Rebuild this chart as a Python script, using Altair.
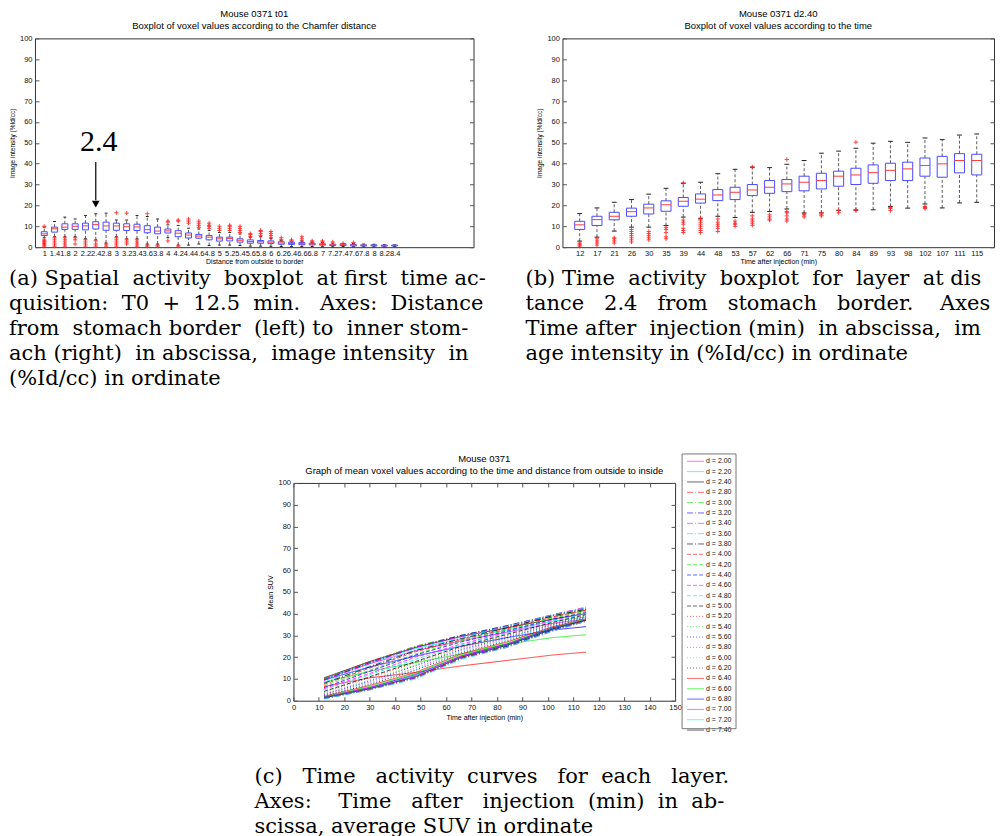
import altair as alt
import pandas as pd

# ---------------- Panel (a): boxplot vs Chamfer distance ----------------
dist_labels = ["1", "1.4", "1.8", "2", "2.2", "2.4", "2.8", "3", "3.2", "3.4", "3.6", "3.8",
               "4", "4.2", "4.4", "4.6", "4.8", "5", "5.2", "5.4", "5.6", "5.8", "6", "6.2",
               "6.4", "6.6", "6.8", "7", "7.2", "7.4", "7.6", "7.8", "8", "8.2", "8.4"]
dist_q1 = [5.6, 7.2, 8.5, 8.5, 8.3, 8.7, 8.1, 8.1, 8.0, 8.0, 6.9, 6.4, 6.8, 5.0, 4.4, 4.3, 3.5, 2.9,
           3.0, 2.4, 1.9, 1.9, 1.7, 1.4, 1.3, 1.2, 1.1, 1.0, 0.8, 0.8, 0.6, 0.6, 0.6, 0.5, 0.6]
dist_med = [6.4, 8.8, 9.6, 10.0, 10.2, 10.8, 10.2, 10.2, 9.8, 9.7, 8.4, 7.7, 7.8, 6.7, 5.8, 5.3, 4.8, 4.0,
            4.1, 3.3, 2.7, 2.6, 2.4, 2.0, 1.8, 1.7, 1.5, 1.3, 1.1, 1.2, 1.0, 0.9, 0.8, 0.7, 0.8]
dist_q3 = [7.4, 9.6, 11.2, 11.2, 11.5, 12.2, 12.0, 11.5, 11.2, 11.0, 10.3, 9.6, 8.7, 7.9, 6.8, 6.1, 5.6, 4.8,
           4.8, 4.0, 3.5, 3.2, 3.0, 2.6, 2.4, 2.2, 1.9, 1.6, 1.4, 1.6, 1.3, 1.1, 1.1, 1.0, 1.0]
dist_lo = [4.5, 5.0, 5.0, 5.0, 4.0, 3.5, 2.0, 5.0, 4.0, 4.0, 1.5, 1.5, 4.5, 1.0, 1.0, 1.5, 0.8, 1.0,
           1.0, 0.8, 0.5, 0.5, 0.4, 0.3, 0.3, 0.3, 0.3, 0.2, 0.2, 0.3, 0.2, 0.2, 0.2, 0.2, 0.4]
dist_hi = [9.6, 12.3, 14.4, 13.5, 15.2, 16.0, 16.3, 13.0, 13.0, 15.2, 14.7, 13.5, 10.7, 10.4, 9.1, 8.7, 8.0, 7.0,
           7.0, 6.3, 4.8, 5.0, 4.2, 3.3, 2.5, 2.9, 2.3, 2.2, 2.0, 1.8, 1.8, 1.5, 1.4, 1.2, 1.1]
dist_out = [[0.5, 1, 1.5, 2, 2.5, 3, 3.5, 10], [0.5, 1.5, 2.5, 3.5, 4.5], [0.5, 1.5, 2.5, 3.5, 4.5],
            [1.5, 3.5, 4.5], [0.5, 1.5, 2.5, 3.5], [0.5, 1.5, 3], [0.5, 1.5],
            [0.5, 1.5, 2.5, 3.5, 4.5, 16.5], [1.5, 2.5, 3.5, 16.3], [0.5, 1.5, 2.5, 3.5],
            [0.5, 1, 16], [0.5, 1], [3, 12, 12.5], [0.5, 12.5, 13], [11.5, 12.5, 13.5],
            [9.5, 10.5, 11.5, 12.5], [9, 10, 10.5, 11.5], [8, 9, 10], [8, 9, 10, 10.5],
            [7, 8, 9, 10], [5, 6, 6.5], [5.5, 6.5, 7.5, 8], [4.5, 5.5, 6.5, 7.5], [3.5, 4.5],
            [3, 3.5], [3, 4, 5], [2.5, 3], [2.5, 3], [2.5], [1.8], [2.2], [], [], [], []]
annot_label = "2.4"

# ---------------- Panel (b): boxplot vs time at d = 2.4 ----------------
time_labels = ["12", "17", "21", "26", "30", "35", "39", "44", "48", "53", "57", "62",
               "66", "71", "75", "80", "84", "89", "93", "98", "102", "107", "111", "115"]
time_q1 = [8.5, 10.4, 13.1, 14.8, 15.9, 17.2, 19.6, 21.1, 22.3, 22.8, 24.7, 25.8,
           26.6, 27.0, 27.9, 29.2, 30.0, 30.6, 31.9, 31.9, 34.0, 33.5, 35.6, 34.6]
time_med = [10.7, 13.2, 14.8, 17.0, 18.8, 20.3, 22.0, 23.0, 25.0, 26.3, 27.4, 28.7,
            30.3, 31.1, 31.9, 34.0, 34.6, 35.7, 36.8, 37.5, 39.1, 39.9, 41.5, 41.5]
time_q3 = [12.4, 14.8, 16.7, 18.7, 20.6, 22.2, 23.8, 25.5, 27.6, 28.7, 30.0, 31.9,
           32.4, 34.0, 35.4, 36.4, 37.8, 39.4, 40.2, 40.7, 42.7, 43.5, 44.8, 44.5]
time_lo = [2.9, 4.8, 7.7, 9.6, 9.6, 10.4, 14.4, 13.6, 14.8, 14.2, 16.7, 17.1,
           18.3, 16.4, 16.4, 17.7, 17.7, 17.9, 19.5, 18.7, 20.7, 18.8, 21.2, 21.5]
time_hi = [16.1, 18.8, 21.5, 22.8, 25.4, 28.2, 30.6, 31.1, 35.2, 37.3, 38.3, 38.1,
           39.7, 41.5, 45.0, 46.0, 47.4, 49.8, 50.7, 50.2, 52.3, 51.5, 53.7, 54.2]
time_out = [[0.5, 1, 1.5, 2], [1, 2, 3, 4], [2, 3, 4, 4.5], [2.5, 3.5, 4.5, 5.5, 6.5, 7.5, 8.5],
            [3.5, 4.5, 5.5, 6.5, 7.5], [4, 5, 7, 8.5, 9.5], [7, 8, 9, 11, 12, 13, 30.8],
            [7, 8, 9, 10, 11, 12, 13, 14], [7.5, 9, 10, 11, 12, 13.5], [10, 11, 11.5, 12.5],
            [10.5, 11.5, 12.5, 13.5, 15, 38.5], [13, 13.5, 14.5, 15.5],
            [12.5, 13.5, 15, 16.5, 17, 42], [14.5, 15.5, 16], [15, 15.5, 16.5], [16.5, 17.5],
            [17.5, 18, 50.3], [], [17.5, 18.5, 19], [], [18.5, 19, 19.5], [], [], []]

# ---------------- Panel (c): mean curves per layer ----------------
curve_times = [12, 30, 48, 66, 84, 102, 115]
curve_d = [1.0, 1.4, 1.8, 2.0, 2.2, 2.4, 2.8, 3.0, 3.2, 3.4, 3.6, 3.8, 4.0, 4.2, 4.4, 4.6, 4.8, 5.0,
           5.2, 5.4, 5.6, 5.8, 6.0, 6.2, 6.4, 6.6, 6.8, 7.0, 7.2, 7.4, 7.6, 7.8, 8.0, 8.2, 8.4]
curve_vals = [
    [6.5, 10.5, 13.0, 16.0, 18.5, 21.0, 22.3],
    [8.5, 13.5, 17.5, 21.5, 26.0, 29.0, 30.3],
    [9.5, 15.5, 20.5, 25.0, 29.0, 32.5, 34.0],
    [10.0, 17.0, 23.0, 27.5, 31.5, 35.5, 37.5],
    [10.0, 17.5, 24.0, 28.5, 32.5, 36.5, 38.5],
    [10.5, 18.0, 24.5, 29.5, 33.5, 37.5, 40.0],
    [10.0, 18.0, 25.0, 30.0, 34.0, 38.5, 41.5],
    [9.8, 17.5, 25.0, 30.0, 34.5, 39.0, 42.0],
    [9.5, 17.5, 24.5, 30.0, 34.5, 39.5, 42.5],
    [9.3, 17.0, 24.5, 29.5, 34.0, 39.5, 43.0],
    [8.5, 16.0, 23.5, 29.0, 34.0, 39.5, 42.5],
    [8.0, 15.5, 23.0, 28.5, 33.5, 39.0, 42.0],
    [7.5, 15.0, 22.5, 28.0, 33.0, 38.5, 41.5],
    [6.8, 14.0, 21.5, 27.5, 32.5, 38.0, 41.0],
    [6.0, 13.5, 21.0, 27.0, 32.0, 37.5, 40.5],
    [5.5, 12.5, 20.0, 26.0, 31.5, 37.0, 40.0],
    [5.0, 12.0, 19.0, 25.5, 31.0, 36.5, 40.0],
    [4.3, 11.0, 18.0, 25.0, 30.5, 36.0, 39.5],
    [4.0, 10.5, 17.5, 24.5, 30.0, 35.5, 39.0],
    [3.5, 9.5, 16.5, 24.0, 29.5, 35.0, 39.0],
    [3.0, 9.0, 16.0, 23.5, 29.0, 35.0, 38.5],
    [2.8, 8.5, 15.0, 23.0, 28.5, 34.5, 38.5],
    [2.5, 8.0, 14.5, 22.5, 28.0, 34.5, 38.0],
    [2.2, 7.5, 14.0, 22.0, 27.5, 34.0, 38.0],
    [2.0, 7.0, 13.0, 21.5, 27.0, 34.0, 37.5],
    [1.8, 6.5, 12.5, 21.0, 26.5, 33.5, 37.5],
    [1.6, 6.0, 12.0, 20.5, 26.0, 33.5, 37.0],
    [1.5, 6.0, 11.5, 20.5, 26.0, 33.0, 37.0],
    [1.4, 5.5, 11.5, 20.0, 25.5, 33.0, 37.0],
    [1.3, 5.5, 11.0, 20.0, 25.5, 33.0, 37.0],
    [1.2, 5.5, 11.0, 20.0, 25.0, 32.5, 37.0],
    [1.1, 5.3, 10.5, 19.5, 25.0, 32.5, 36.5],
    [1.0, 5.2, 10.5, 19.5, 25.0, 32.5, 36.5],
    [0.9, 5.0, 10.5, 19.5, 24.5, 32.0, 36.5],
    [0.8, 5.0, 10.0, 19.0, 24.5, 32.0, 36.5],
]

N = "\u00a0"  # non-breaking space, used to widen the justified caption lines
caption_a = [f"(a) Spatial{N} activity{N} boxplot{N} at first{N} time ac-",
             f"quisition:{N} T0{N} +{N} 12.5{N} min.{N}{N} Axes:{N} Distance",
             f"from{N} stomach border{N} (left) to{N} inner stom-",
             f"ach (right){N} in abscissa,{N} image intensity{N} in",
             "(%Id/cc) in ordinate"]
caption_b = [f"(b) Time{N} activity{N} boxplot{N} for{N} layer{N} at dis",
             f"tance{N}{N} 2.4{N}{N} from{N}{N} stomach{N}{N} border.{N}{N}{N} Axes",
             f"Time after{N} injection (min){N} in abscissa,{N} im",
             "age intensity in (%Id/cc) in ordinate"]
caption_c = [f"(c){N}{N} Time{N}{N} activity{N} curves{N}{N} for{N} each{N}{N} layer.",
             f"Axes:{N}{N}{N} Time{N}{N} after{N}{N} injection{N} (min){N} in{N} ab-",
             "scissa, average SUV in ordinate"]

# ---------------- styles ----------------
SANS = "Liberation Sans"
SERIF = "DejaVu Serif"
BOX_C = "#4a4aff"
MED_C = "#ff3a3a"
OUT_C = "#ff2020"
WHISK_C = "#333333"
ML_COLORS = ["#ff0000", "#00ee00", "#0000ff", "#ff00ff", "#00e5ff", "#000000"]
ML_DASHES = [[1, 0], [6, 2, 1, 2], [4, 2], [1, 2]]
TICK_VALUES_Y = list(range(0, 101, 10))


def boxplot(labels, q1, med, q3, lo, hi, outs, xdomain, width, height, title_lines, xtitle,
            annotation=None):
    n = len(labels)
    df = pd.DataFrame({"i": list(range(1, n + 1)), "lab": labels, "q1": q1, "med": med,
                       "q3": q3, "lo": lo, "hi": hi})
    out_df = pd.DataFrame([{"i": k + 1, "v": v} for k, vals in enumerate(outs) for v in vals])
    xs = alt.Scale(domain=xdomain, nice=False, zero=False)
    ys = alt.Scale(domain=[0, 100], nice=False)
    expr = "[" + ",".join("'%s'" % l for l in labels) + "][round(datum.value)-1]"
    xaxis = alt.Axis(values=list(range(1, n + 1)), labelExpr=expr, ticks=False, domain=False,
                     grid=False, labelOverlap=False, labelFlush=False, labelBound=False,
                     labelFontSize=7.5, labelPadding=2, title=xtitle, titleFontSize=7,
                     titleFontWeight="normal", titlePadding=1, labelColor="#111",
                     orient="bottom")
    yaxis = alt.Axis(values=TICK_VALUES_Y, orient="left", offset=-4, tickSize=4, domain=False,
                     grid=False, labelFontSize=7.5, labelPadding=3, labelColor="#111",
                     title="Image intensity (%Id/cc)", titleFontSize=6.5, titleFontWeight="normal",
                     titlePadding=4, tickColor="#555")
    yaxis_r = alt.Axis(values=TICK_VALUES_Y, orient="right", offset=-4, tickSize=4, domain=False,
                       grid=False, labels=False, title=None, tickColor="#555")
    X = lambda f: alt.X(f, scale=xs, axis=xaxis)
    base = alt.Chart(df).transform_calculate(
        xl="datum.i - 0.29", xr="datum.i + 0.29", cl="datum.i - 0.14", cr="datum.i + 0.14")
    w_up = base.mark_rule(strokeDash=[3, 2], color=WHISK_C, strokeWidth=0.8).encode(
        x=X("i:Q"), y=alt.Y("q3:Q", scale=ys, axis=yaxis), y2="hi:Q")
    w_lo = base.mark_rule(strokeDash=[3, 2], color=WHISK_C, strokeWidth=0.8).encode(
        x=X("i:Q"), y=alt.Y("lo:Q", scale=ys, axis=yaxis_r), y2="q1:Q")
    cap_hi = base.mark_rule(color="#222", strokeWidth=1).encode(
        x=X("cl:Q"), x2="cr:Q", y=alt.Y("hi:Q", scale=ys, axis=None))
    cap_lo = base.mark_rule(color="#222", strokeWidth=1).encode(
        x=X("cl:Q"), x2="cr:Q", y=alt.Y("lo:Q", scale=ys, axis=None))
    box = base.mark_rect(fillOpacity=0, stroke=BOX_C, strokeWidth=1).encode(
        x=X("xl:Q"), x2="xr:Q", y=alt.Y("q1:Q", scale=ys, axis=None), y2="q3:Q")
    medl = base.mark_rule(color=MED_C, strokeWidth=1).encode(
        x=X("xl:Q"), x2="xr:Q", y=alt.Y("med:Q", scale=ys, axis=None))
    outl = alt.Chart(out_df).mark_point(shape="M-1,0H1M0,-1V1", filled=False, color=OUT_C,
                                        size=18, strokeWidth=1, opacity=0.85).encode(
        x=X("i:Q"), y=alt.Y("v:Q", scale=ys, axis=None))
    layers = [w_up, w_lo, cap_hi, cap_lo, box, medl, outl]
    if annotation is not None:
        k = labels.index(annotation) + 1
        adf = pd.DataFrame({"i": [k], "lab": [annotation], "top": [40.8], "bot": [22.5],
                            "tip": [20.6], "txt": [43.0]})
        a = alt.Chart(adf)
        layers.append(a.mark_text(font="Liberation Serif", fontSize=30, baseline="bottom", dx=3,
                                  color="#000").encode(
            x=X("i:Q"), y=alt.Y("txt:Q", scale=ys, axis=None), text="lab:N"))
        layers.append(a.mark_rule(color="#000", strokeWidth=1.2).encode(
            x=X("i:Q"), y=alt.Y("top:Q", scale=ys, axis=None), y2="bot:Q"))
        layers.append(a.mark_point(shape="triangle-down", filled=True, color="#000", size=60,
                                   opacity=1).encode(
            x=X("i:Q"), y=alt.Y("tip:Q", scale=ys, axis=None)))
    return alt.layer(*layers).properties(
        width=width, height=height,
        title=alt.TitleParams(text=title_lines, fontSize=9.5, fontWeight="normal", font=SANS,
                              anchor="middle", frame="group", offset=4, lineHeight=12,
                              color="#000"))


def caption(lines, dx=0, offset=3):
    return alt.TitleParams(text=lines, orient="bottom", anchor="start", font=SERIF, fontSize=21,
                           fontWeight="normal", lineHeight=25, offset=offset, dx=dx, color="#000")


panel_a = boxplot(dist_labels, dist_q1, dist_med, dist_q3, dist_lo, dist_hi, dist_out,
                  [0.1, 42.66], 439, 209,
                  ["Mouse 0371 t01", "Boxplot of voxel values according to the Chamfer distance"],
                  "Distance from outside to border", annotation=annot_label)
panel_b = boxplot(time_labels, time_q1, time_med, time_q3, time_lo, time_hi, time_out,
                  [0.0, 25.0], 432, 209,
                  ["Mouse 0371 d2.40", "Boxplot of voxel values according to the time"],
                  "Time after injection (min)")

wrap_a = alt.vconcat(panel_a, title=caption(caption_a))
wrap_b = alt.vconcat(panel_b, title=caption(caption_b, dx=-11))

# ---- panel (c)
rows = []
for i, (d, vals) in enumerate(zip(curve_d, curve_vals)):
    for t, v in zip(curve_times, vals):
        rows.append({"k": i, "d": "%.2f" % d, "t": t, "v": v})
cdf = pd.DataFrame(rows)
dlabels = ["%.2f" % d for d in curve_d]
col_range = [ML_COLORS[i % 6] for i in range(len(dlabels))]
dash_range = [ML_DASHES[(i // 6) % 4] for i in range(len(dlabels))]
cscale = alt.Scale(domain=dlabels, range=col_range)
dscale = alt.Scale(domain=dlabels, range=dash_range)
xs_c = alt.Scale(domain=[0, 150], nice=False)
ys_c = alt.Scale(domain=[0, 100], nice=False)
ax_b = alt.Axis(values=list(range(0, 151, 10)), orient="bottom", offset=-4, tickSize=4,
                domain=False, grid=False, labelFontSize=7.5, labelPadding=3, labelColor="#111",
                title="Time after injection (min)", titleFontSize=7, titleFontWeight="normal",
                titlePadding=2, tickColor="#555", labelFlush=False)
ax_l = alt.Axis(values=TICK_VALUES_Y, orient="left", offset=-4, tickSize=4, domain=False,
                grid=False, labelFontSize=7.5, labelPadding=3, labelColor="#111",
                title="Mean SUV", titleFontSize=7, titleFontWeight="normal", titlePadding=4,
                tickColor="#555")
ax_t = alt.Axis(values=list(range(0, 151, 10)), orient="top", offset=-4, tickSize=4,
                domain=False, grid=False, labels=False, title=None, tickColor="#555")
ax_r = alt.Axis(values=TICK_VALUES_Y, orient="right", offset=-4, tickSize=4, domain=False,
                grid=False, labels=False, title=None, tickColor="#555")
lines = alt.Chart(cdf).mark_line(strokeWidth=1, opacity=0.75).encode(
    x=alt.X("t:Q", scale=xs_c, axis=ax_b),
    y=alt.Y("v:Q", scale=ys_c, axis=ax_l),
    color=alt.Color("d:N", scale=cscale, legend=None),
    strokeDash=alt.StrokeDash("d:N", scale=dscale, legend=None),
    order=alt.Order("k:Q"))
frame_axes = alt.Chart(cdf).mark_point(opacity=0).encode(
    x=alt.X("t:Q", scale=xs_c, axis=ax_t),
    y=alt.Y("v:Q", scale=ys_c, axis=ax_r))
panel_c = alt.layer(lines, frame_axes).properties(
    width=382, height=218,
    title=alt.TitleParams(text=["Mouse 0371", "Graph of mean voxel values according to the time "
                                "and distance from outside to inside"],
                          fontSize=9.5, fontWeight="normal", font=SANS, anchor="middle",
                          frame="group", offset=3, lineHeight=12, color="#000"))

# custom legend box: starts above the plot's top edge and is cut at its bottom,
# as in the original figure (entries 1.00-1.80 above and 7.60+ below are outside it)
LEG_TOP, LEG_BOTTOM = -29, 246
FIRST_SHOWN, LAST_SHOWN = 3, 29
ldf = pd.DataFrame({"k": list(range(len(dlabels))), "d": dlabels})
lys = alt.Scale(domain=[FIRST_SHOWN, LAST_SHOWN], range=[-21.7, 247.4], nice=False, zero=False)
leg_base = alt.Chart(ldf).transform_filter(
    f"datum.k >= {FIRST_SHOWN} && datum.k <= {LAST_SHOWN}").transform_calculate(
    lab="'d  = ' + datum.d")
leg_lines = leg_base.mark_rule(strokeWidth=1, opacity=0.6).encode(
    x=alt.value(5), x2=alt.value(22),
    y=alt.Y("k:Q", scale=lys, axis=None),
    color=alt.Color("d:N", scale=cscale, legend=None),
    strokeDash=alt.StrokeDash("d:N", scale=dscale, legend=None))
leg_text = leg_base.mark_text(align="left", baseline="middle", fontSize=7, font=SANS,
                              color="#111").encode(
    x=alt.value(24), y=alt.Y("k:Q", scale=lys, axis=None), text="lab:N")
leg_box = alt.Chart(pd.DataFrame({"k": [0]})).mark_rect(
    fillOpacity=0, stroke="#777", strokeWidth=1).encode(
    x=alt.value(0), x2=alt.value(54), y=alt.value(LEG_TOP), y2=alt.value(LEG_BOTTOM))
legend_c = alt.layer(leg_lines, leg_text, leg_box).properties(
    width=54, height=LEG_BOTTOM, view=alt.ViewBackground(strokeOpacity=0))

row2 = alt.hconcat(panel_c, legend_c, spacing=-7, title=caption(caption_c, dx=-12, offset=33))
row1 = alt.hconcat(wrap_a, wrap_b, spacing=38)

chart = alt.vconcat(row1, row2, spacing=64, center=True).properties(padding=0).configure(
    font=SANS).configure_view(stroke="#333", strokeWidth=1).configure_axis(
    labelFont=SANS, titleFont=SANS)

chart.save("out.html", embed_options={"renderer": "svg", "actions": False})
